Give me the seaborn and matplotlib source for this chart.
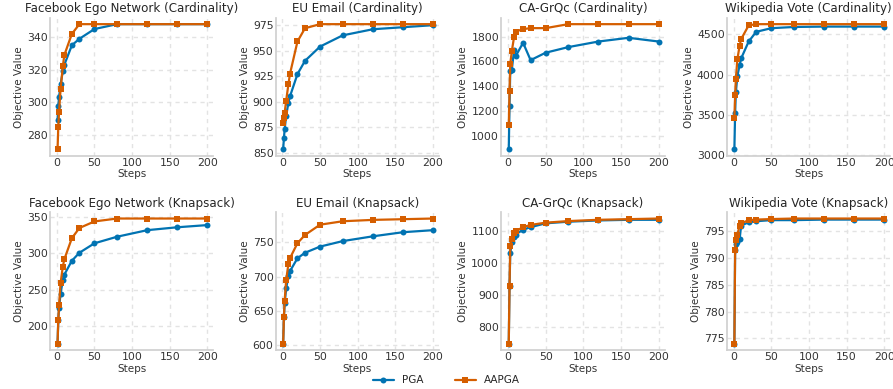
import numpy as np
import pandas as pd
import matplotlib
matplotlib.use('Agg')
import matplotlib.pyplot as plt
import seaborn as sns

# steps at which the objective was recorded
steps = [1, 2, 3, 5, 8, 10, 20, 30, 50, 80, 120, 160, 200]

titles = [
    'Facebook Ego Network (Cardinality)', 'EU Email (Cardinality)',
    'CA-GrQc (Cardinality)', 'Wikipedia Vote (Cardinality)',
    'Facebook Ego Network (Knapsack)', 'EU Email (Knapsack)',
    'CA-GrQc (Knapsack)', 'Wikipedia Vote (Knapsack)',
]

# cardinality constraint
fb_card_pga = [289, 298, 303, 311, 319, 323, 335, 339, 345, 348, 348, 348, 348]
fb_card_aapga = [271, 285, 294, 308, 322, 329, 342, 348, 348, 348, 348, 348, 348]
eu_card_pga = [853, 864, 873, 886, 899, 905, 927, 940, 954, 965, 971, 973, 975]
eu_card_aapga = [879, 884, 889, 901, 917, 927, 959, 972, 976, 976, 976, 976, 976]
ca_card_pga = [890, 1240, 1525, 1530, 1690, 1640, 1750, 1610, 1670, 1715, 1760, 1790, 1760]
ca_card_aapga = [1085, 1360, 1580, 1680, 1795, 1840, 1860, 1868, 1868, 1900, 1900, 1900, 1900]
wv_card_pga = [3070, 3520, 3780, 3980, 4120, 4200, 4410, 4530, 4575, 4590, 4595, 4595, 4595]
wv_card_aapga = [3460, 3740, 3950, 4190, 4360, 4440, 4610, 4625, 4625, 4625, 4625, 4625, 4625]

# knapsack constraint
fb_knap_pga = [176, 209, 225, 245, 263, 271, 290, 301, 314, 323, 332, 336, 339]
fb_knap_aapga = [176, 209, 229, 259, 282, 292, 321, 335, 344, 348, 348, 348, 348]
eu_knap_pga = [602, 641, 661, 683, 701, 708, 727, 735, 744, 752, 759, 765, 768]
eu_knap_aapga = [602, 641, 665, 695, 719, 727, 749, 761, 776, 781, 783, 784, 785]
ca_knap_pga = [748, 928, 1032, 1065, 1083, 1090, 1105, 1113, 1125, 1130, 1134, 1136, 1136]
ca_knap_aapga = [748, 928, 1055, 1075, 1095, 1100, 1113, 1120, 1127, 1132, 1136, 1138, 1140]
wv_knap_pga = [774, 791.5, 792.5, 793, 793.5, 796, 796.6, 796.8, 797, 797, 797.1, 797.1, 797.1]
wv_knap_aapga = [774, 791.5, 793.3, 794.3, 796, 796.4, 797, 797.1, 797.2, 797.3, 797.3, 797.3, 797.3]

pga_all = [fb_card_pga, eu_card_pga, ca_card_pga, wv_card_pga,
           fb_knap_pga, eu_knap_pga, ca_knap_pga, wv_knap_pga]
aapga_all = [fb_card_aapga, eu_card_aapga, ca_card_aapga, wv_card_aapga,
             fb_knap_aapga, eu_knap_aapga, ca_knap_aapga, wv_knap_aapga]

sns.set_theme(style='whitegrid')
plt.rcParams['font.family'] = ['DejaVu Sans']
plt.rcParams['grid.linestyle'] = (0, (3, 3))
plt.rcParams['grid.color'] = '#e3e3e3'
plt.rcParams['axes.edgecolor'] = '#d0d0d0'
plt.rcParams['text.color'] = '#262626'
plt.rcParams['axes.labelcolor'] = '#333333'
plt.rcParams['xtick.color'] = '#333333'
plt.rcParams['ytick.color'] = '#333333'

pal = {'PGA': '#0173b2', 'AAPGA': '#d55e00'}

fig, axes = plt.subplots(2, 4, figsize=(8.93, 3.89), dpi=100)
plt.subplots_adjust(left=0.056, right=0.997, top=0.954, bottom=0.10,
                    wspace=0.38, hspace=0.41)

for i, ax in enumerate(axes.flat):
    df = pd.concat([
        pd.DataFrame({'Steps': steps, 'Objective Value': pga_all[i], 'Method': 'PGA'}),
        pd.DataFrame({'Steps': steps, 'Objective Value': aapga_all[i], 'Method': 'AAPGA'}),
    ])
    sns.lineplot(data=df, x='Steps', y='Objective Value', hue='Method',
                 style='Method', markers={'PGA': 'o', 'AAPGA': 's'},
                 dashes=False, palette=pal, linewidth=1.6, markersize=4.3,
                 markeredgewidth=0, ax=ax, legend=(i == 0))
    ax.set_title(titles[i], fontsize=8.6, pad=4)
    ax.set_xlabel('Steps', fontsize=7.5, labelpad=1)
    ax.set_ylabel('Objective Value', fontsize=7.5, labelpad=2)
    ax.tick_params(labelsize=7.8, pad=1.5, length=0)
    ax.set_xticks([0, 50, 100, 150, 200])
    ax.set_xlim(-9, 208)
    sns.despine(ax=ax)

handles, labels = axes[0, 0].get_legend_handles_labels()
axes[0, 0].get_legend().remove()
fig.legend(handles, labels, loc='lower center', ncol=2, frameon=False,
           fontsize=7.5, bbox_to_anchor=(0.5, -0.015), columnspacing=3)

plt.savefig('out.png', dpi=100)
